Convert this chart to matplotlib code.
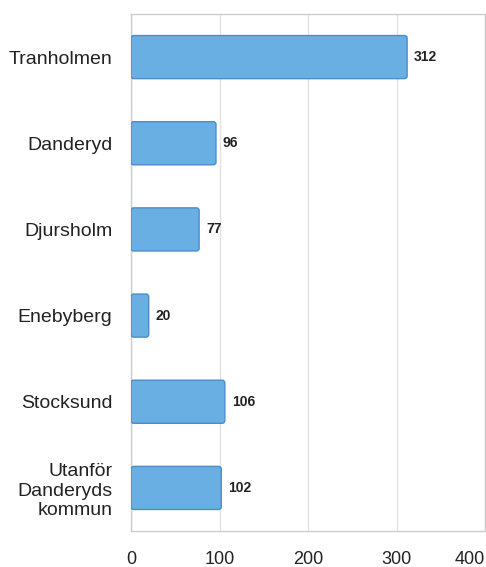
import matplotlib
matplotlib.use("Agg")
import matplotlib.pyplot as plt
from matplotlib.patches import FancyBboxPatch

categories = ["Tranholmen", "Danderyd", "Djursholm", "Enebyberg", "Stocksund", "Utanför\nDanderyds\nkommun"]
values = [312, 96, 77, 20, 106, 102]
xticks = [0, 100, 200, 300, 400]

plt.rcParams['font.family'] = ['Liberation Sans', 'DejaVu Sans']

fig = plt.figure(figsize=(4.86, 5.67), dpi=100)
W, H = 486, 567
x0, x1, y0, y1 = 131, 485, 14, 531
ax = fig.add_axes([x0 / W, 1 - y1 / H, (x1 - x0) / W, (y1 - y0) / H])

xmax = 400
ypos = list(range(len(categories)))
bh = 0.5
aspect = (len(categories) / (y1 - y0)) / (xmax / (x1 - x0))
for y, v in zip(ypos, values):
    p = FancyBboxPatch((0, y - bh / 2), v, bh,
                       boxstyle="round,pad=0,rounding_size=3",
                       mutation_aspect=aspect,
                       facecolor="#6aafe3", edgecolor="#4a8dcb", linewidth=1.0, zorder=3)
    ax.add_patch(p)
    ax.annotate(str(v), xy=(v, y), xytext=(5, 0), textcoords="offset points",
                va="center", ha="left", fontsize=10, fontweight="bold", color="#222222", zorder=4)

ax.set_xlim(0, xmax)
ax.set_ylim(len(categories) - 0.5, -0.5)
ax.set_yticks(ypos)
ax.set_yticklabels(categories, fontsize=14, color="#222222", ha="right", multialignment="right")
ax.set_xticks(xticks)
ax.set_xticklabels([str(t) for t in xticks], fontsize=13, color="#222222")
ax.get_xticklabels()[-1].set_ha("right")
ax.tick_params(axis="y", length=0, pad=13.5)
ax.tick_params(axis="x", length=0, pad=14.5)
ax.grid(axis="x", color="#e2e2e2", linewidth=1, zorder=0)
ax.set_axisbelow(True)
for s in ax.spines.values():
    s.set_color("#cccccc")
    s.set_linewidth(1)

fig.savefig("out.png", dpi=100)
